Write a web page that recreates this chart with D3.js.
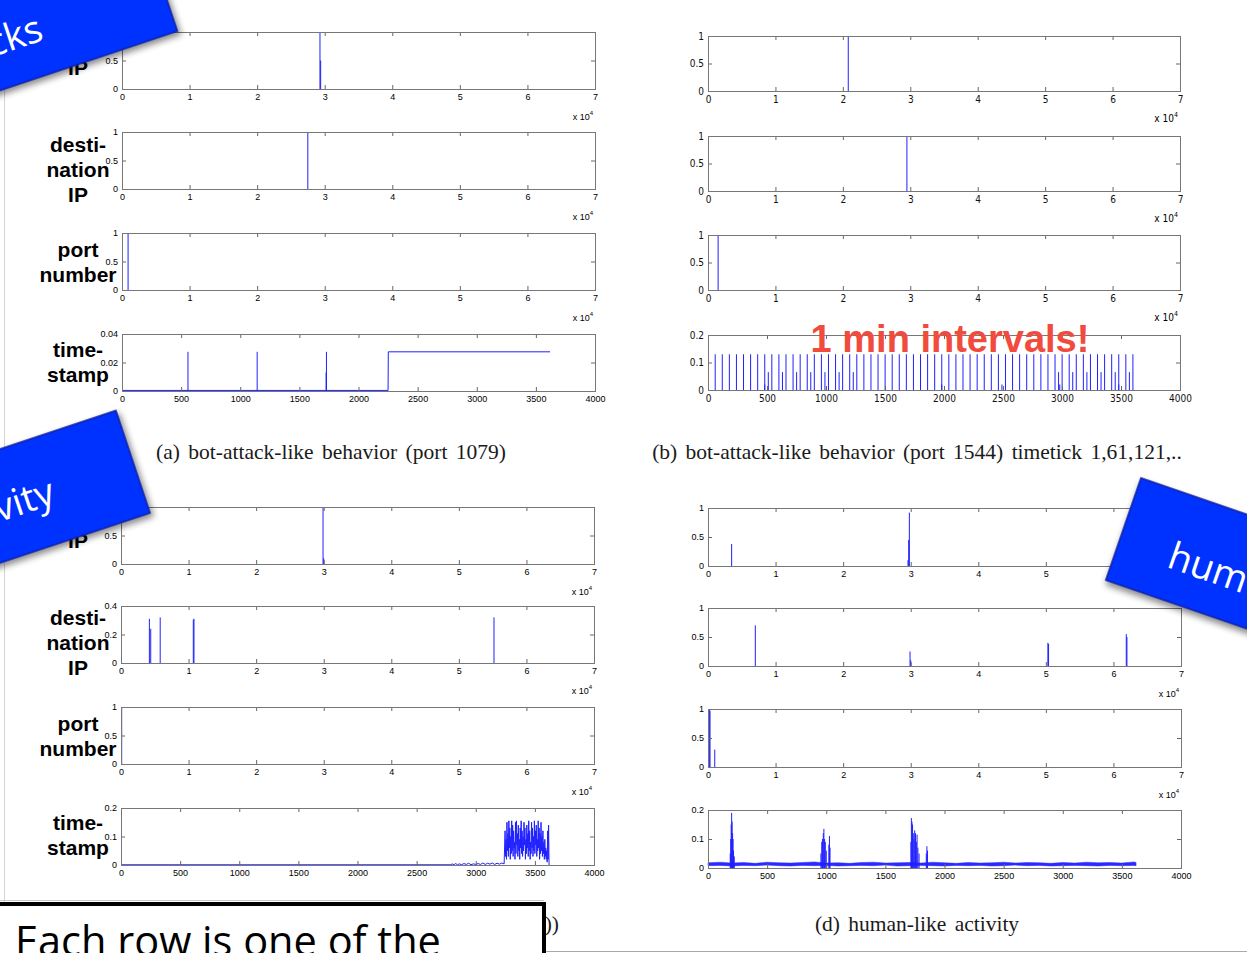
<!DOCTYPE html>
<meta charset="utf-8">
<style>
body { margin: 0; background: #fff; }
svg { display: block; }
.tick text { font: 9px "Liberation Sans", Arial, sans-serif; fill: #000; }
.narrow .tick text { font: 10px "DejaVu Sans Condensed", sans-serif; fill: #111; }
.tick line { stroke: #666; }
.frame { fill: none; stroke: #777; }
.e4 { font: 9px "Liberation Sans", Arial, sans-serif; text-anchor: end; }
.narrow .e4 { font: 10px "DejaVu Sans Condensed", sans-serif; }
.rowlab { font: bold 21px "Liberation Sans", Arial, sans-serif; text-anchor: middle; fill: #000; }
.caption { font: 21.5px "Liberation Serif", serif; word-spacing: 3px; text-anchor: middle; fill: #1a1a1a; }
.spike { stroke: #2020ff; stroke-width: 1; }
.trace { fill: none; stroke: #2020ff; stroke-width: 1; }
.band { fill: #2a2aff; stroke: #2a2aff; stroke-width: 0.5; }
.banner rect { fill: #0433ff; stroke: #0a1f9e; stroke-width: 1.5; }
.banner text { font: 38px "Open Sans", sans-serif; fill: #fff; }
.note { font: bold 38px "Liberation Sans", Arial, sans-serif; fill: #f04b3c; text-anchor: middle; }
.boxtext { font: 41.5px "Open Sans", sans-serif; fill: #000; }
</style>
<svg width="1247" height="953"></svg>
<script src="https://d3js.org/d3.v7.min.js"></script>
<script>

// tick values
var xTicksE4 = [0, 1, 2, 3, 4, 5, 6, 7];
var xTicksTime = [0, 500, 1000, 1500, 2000, 2500, 3000, 3500, 4000];
var yTicksUnit = [0, 0.5, 1];
var yTicksA = [0, 0.02, 0.04];
var yTicksTenth = [0, 0.1, 0.2];
var yTicksDst = [0, 0.2, 0.4];

var rowNames = [["source", "IP"], ["desti-", "nation", "IP"], ["port", "number"], ["time-", "stamp"]];

// (a) bot-attack-like behavior (port 1079) -- IP / port x in units of 1e4
var aSrcIP = [[2.93, 1.0], [2.94, 0.5]];
var aDstIP = [[2.75, 1.0]];
var aPort = [[0.09, 1.0]];
var aTimeSpikes = [[558, 0.0275], [1143, 0.0275], [1726, 0.013], [1729, 0.0275]];
var aTimeSteps = [[0, 0.0004], [2250, 0.0004], [2252, 0.0275], [3620, 0.0275]];

// (b) bot-attack-like behavior (port 1544)
var bSrcIP = [[2.08, 1.0]];
var bDstIP = [[2.95, 1.0]];
var bPort = [[0.15, 1.0]];
var bMainTicks = [61, 121, 181, 241, 301, 361, 421, 481, 541, 601, 661, 721, 781, 841, 901, 961,
  1021, 1081, 1141, 1201, 1261, 1321, 1381, 1441, 1501, 1561, 1621, 1681, 1741, 1801, 1861, 1921,
  1981, 2041, 2101, 2161, 2221, 2281, 2341, 2401, 2461, 2521, 2581, 2641, 2701, 2761, 2821, 2881,
  2941, 3001, 3061, 3121, 3181, 3241, 3301, 3361, 3421, 3481, 3541, 3601];
var bMainHeight = 0.13;
var bMidTicks = [511, 631, 751, 871, 991, 1111, 1231, 2971, 3091, 3211, 3331, 3451, 3571];
var bMidHeight = 0.065;
var bLowTicks = [481, 1981, 2491, 2981, 3481];
var bLowHeight = 0.02;

// (c)
var cSrcIP = [[2.99, 1.0], [3.0, 0.1]];
var cDstIP = [[0.42, 0.31], [0.44, 0.24], [0.58, 0.32], [1.07, 0.305], [1.08, 0.31], [5.52, 0.32]];
var cPort = [[0.01, 1.0]];
var cTimePts = [[0, 0.0008], [2790, 0.0008], [2800, 0.004], [2815, 0.001], [2830, 0.005], [2845, 0.001],
  [2860, 0.004], [2880, 0.001], [2900, 0.005], [2920, 0.002], [2940, 0.006], [2960, 0.001], [2980, 0.004],
  [3000, 0.002], [3020, 0.005], [3040, 0.002], [3060, 0.007], [3080, 0.002], [3100, 0.006], [3120, 0.003],
  [3140, 0.007], [3160, 0.002], [3180, 0.006], [3200, 0.003], [3220, 0.007], [3240, 0.004],
  [3248, 0.12], [3252, 0.03], [3256, 0.09], [3260, 0.02], [3264, 0.15], [3268, 0.05], [3272, 0.11], [3276, 0.03],
  [3280, 0.155], [3284, 0.06], [3288, 0.13], [3292, 0.02], [3296, 0.1], [3300, 0.04], [3304, 0.155], [3308, 0.05],
  [3312, 0.14], [3316, 0.03], [3320, 0.12], [3324, 0.06], [3328, 0.08], [3332, 0.02], [3336, 0.15], [3340, 0.04],
  [3344, 0.155], [3348, 0.07], [3352, 0.11], [3356, 0.03], [3360, 0.14], [3364, 0.05], [3368, 0.09], [3372, 0.02],
  [3376, 0.13], [3380, 0.06], [3384, 0.155], [3388, 0.04], [3392, 0.12], [3396, 0.03], [3400, 0.1], [3404, 0.05],
  [3408, 0.15], [3412, 0.07], [3416, 0.13], [3420, 0.02], [3424, 0.09], [3428, 0.04], [3432, 0.14], [3436, 0.06],
  [3440, 0.11], [3444, 0.03], [3448, 0.155], [3452, 0.05], [3456, 0.12], [3460, 0.02], [3464, 0.08], [3468, 0.04],
  [3472, 0.15], [3476, 0.06], [3480, 0.13], [3484, 0.03], [3488, 0.1], [3492, 0.05], [3496, 0.155], [3500, 0.04],
  [3504, 0.12], [3508, 0.07], [3512, 0.14], [3516, 0.03], [3520, 0.09], [3524, 0.05], [3528, 0.155], [3532, 0.06],
  [3536, 0.13], [3540, 0.02], [3544, 0.11], [3548, 0.04], [3552, 0.15], [3556, 0.05], [3560, 0.1], [3564, 0.03],
  [3568, 0.12], [3572, 0.04], [3576, 0.08], [3580, 0.02], [3584, 0.09], [3588, 0.03], [3592, 0.06], [3596, 0.02],
  [3600, 0.05], [3604, 0.01], [3608, 0.12], [3612, 0.02], [3616, 0.14], [3620, 0.0]];

// (d) human-like activity
var dSrcIP = [[0.35, 0.38], [2.96, 0.1], [2.97, 0.45], [2.98, 0.92]];
var dDstIP = [[0.70, 0.70], [2.99, 0.25], [3.0, 0.10], [5.03, 0.40], [5.04, 0.38], [6.19, 0.55], [6.2, 0.5]];
var dPort = [[0.02, 1.0], [0.03, 0.97], [0.1, 0.3]];
var dBandT = [0, 100, 200, 300, 400, 500, 600, 700, 800, 900, 1000, 1100, 1200, 1300, 1400, 1500, 1600, 1700,
  1800, 1900, 2000, 2100, 2200, 2300, 2400, 2500, 2600, 2700, 2800, 2900, 3000, 3100, 3200, 3300, 3400, 3500, 3600, 3620];
var dBandLo = [0.008, 0.009, 0.007, 0.009, 0.008, 0.01, 0.008, 0.007, 0.009, 0.008, 0.009, 0.007, 0.008, 0.009,
  0.008, 0.01, 0.007, 0.008, 0.009, 0.008, 0.007, 0.009, 0.008, 0.009, 0.007, 0.008, 0.01, 0.008, 0.009, 0.007,
  0.008, 0.009, 0.008, 0.007, 0.009, 0.008, 0.009, 0.008];
var dBandHi = [0.018, 0.02, 0.017, 0.019, 0.016, 0.02, 0.018, 0.017, 0.019, 0.021, 0.017, 0.018, 0.016, 0.019,
  0.02, 0.017, 0.018, 0.019, 0.017, 0.02, 0.018, 0.016, 0.019, 0.017, 0.018, 0.02, 0.017, 0.019, 0.018, 0.016,
  0.019, 0.017, 0.02, 0.018, 0.019, 0.017, 0.021, 0.019];
var dTimeSpikes = [[188, 0.05], [192, 0.1], [196, 0.15], [200, 0.19], [204, 0.16], [208, 0.12], [212, 0.1],
  [216, 0.06], [222, 0.04], [955, 0.05], [962, 0.09], [968, 0.1], [975, 0.12], [980, 0.135], [986, 0.1],
  [992, 0.09], [1000, 0.06], [1022, 0.08], [1027, 0.11], [1032, 0.07], [1716, 0.09], [1720, 0.172],
  [1725, 0.16], [1730, 0.15], [1736, 0.12], [1742, 0.1], [1748, 0.13], [1755, 0.12], [1762, 0.09],
  [1768, 0.115], [1775, 0.07], [1785, 0.05], [1846, 0.05], [1851, 0.075], [1856, 0.06]];

var captionA = "(a) bot-attack-like behavior (port 1079)";
var captionB = "(b) bot-attack-like behavior (port 1544) timetick 1,61,121,..";
var captionCTail = "))";
var captionD = "(d) human-like activity";
var noteText = "1 min intervals!";
var boxText = "Each row is one of the";

var svg = d3.select("svg");

var defs = svg.append("defs");
defs.append("filter").attr("id", "shadow")
    .attr("x", "-30%").attr("y", "-30%").attr("width", "160%").attr("height", "180%")
  .append("feDropShadow")
    .attr("dx", 2).attr("dy", 4).attr("stdDeviation", 3)
    .attr("flood-color", "#000").attr("flood-opacity", 0.45);

// slide edges
svg.append("line").attr("x1", 4.5).attr("x2", 4.5).attr("y1", 0).attr("y2", 953).attr("stroke", "#d4d4d4");
svg.append("line").attr("x1", 0).attr("x2", 1247).attr("y1", 951.5).attr("y2", 951.5).attr("stroke", "#aaa");

function spikesOf(ticks, h) {
  return ticks.map(function(t) { return [t, h]; });
}

var e4Plot = function(spikes, yd, yt) {
  return {xd: [0, 7], xt: xTicksE4, yd: yd || [0, 1], yt: yt || yTicksUnit, spikes: spikes, e4: true};
};

var panels = [
  {left: 122, right: 595, tops: [32, 132, 233, 334], h: 57, labelX: 78, labelOff: [10, 12, 16, 15],
    plots: [e4Plot(aSrcIP), e4Plot(aDstIP), e4Plot(aPort),
      {xd: [0, 4000], xt: xTicksTime, yd: [0, 0.04], yt: yTicksA, spikes: aTimeSpikes, line: aTimeSteps}]},
  {left: 708, right: 1180, tops: [36, 136, 235, 335], h: 55, narrow: true,
    plots: [e4Plot(bSrcIP), e4Plot(bDstIP), e4Plot(bPort),
      {xd: [0, 4000], xt: xTicksTime, yd: [0, 0.2], yt: yTicksTenth,
        spikes: spikesOf(bMainTicks, bMainHeight).concat(spikesOf(bMidTicks, bMidHeight), spikesOf(bLowTicks, bLowHeight))}]},
  {left: 121, right: 594, tops: [507, 606, 707, 808], h: 57, labelX: 78, labelOff: [8, 11, 16, 14],
    plots: [e4Plot(cSrcIP), e4Plot(cDstIP, [0, 0.4], yTicksDst), e4Plot(cPort),
      {xd: [0, 4000], xt: xTicksTime, yd: [0, 0.2], yt: yTicksTenth, line: cTimePts}]},
  {left: 708, right: 1181, tops: [508, 608, 709, 810], h: 58,
    plots: [e4Plot(dSrcIP), e4Plot(dDstIP), e4Plot(dPort),
      {xd: [0, 4000], xt: xTicksTime, yd: [0, 0.2], yt: yTicksTenth, spikes: dTimeSpikes,
        band: d3.zip(dBandT, dBandLo, dBandHi)}]}
];

var fmt = d3.format("~g");

panels.forEach(function(p) {
  p.plots.forEach(function(s, i) {
    var top = p.tops[i], bottom = top + p.h;
    var x = d3.scaleLinear().domain(s.xd).range([p.left, p.right]);
    var y = d3.scaleLinear().domain(s.yd).range([bottom, top]);
    var g = svg.append("g").attr("class", p.narrow ? "plot narrow" : "plot");

    if (s.band) {
      g.append("path").datum(s.band).attr("class", "band")
          .attr("d", d3.area().x(function(d) { return x(d[0]); })
            .y0(function(d) { return y(d[1]); }).y1(function(d) { return y(d[2]); }));
    }
    if (s.line) {
      g.append("path").datum(s.line).attr("class", "trace")
          .attr("d", d3.line().x(function(d) { return x(d[0]); }).y(function(d) { return y(d[1]); }));
    }
    if (s.spikes) {
      g.selectAll("line.spike").data(s.spikes).join("line")
          .attr("class", "spike")
          .attr("x1", function(d) { return x(d[0]); })
          .attr("x2", function(d) { return x(d[0]); })
          .attr("y1", y(0))
          .attr("y2", function(d) { return y(d[1]); });
    }

    g.append("g").attr("transform", "translate(0," + bottom + ")")
        .call(d3.axisBottom(x).tickValues(s.xt).tickFormat(fmt).tickSize(-4).tickPadding(5));
    g.append("g").attr("transform", "translate(0," + top + ")")
        .call(d3.axisTop(x).tickValues(s.xt).tickFormat("").tickSize(-4));
    g.append("g").attr("transform", "translate(" + p.left + ",0)")
        .call(d3.axisLeft(y).tickValues(s.yt).tickFormat(fmt).tickSize(-4).tickPadding(4));
    g.append("g").attr("transform", "translate(" + p.right + ",0)")
        .call(d3.axisRight(y).tickValues(s.yt).tickFormat("").tickSize(-4));
    g.selectAll(".domain").remove();

    g.append("rect").attr("class", "frame")
        .attr("x", p.left + 0.5).attr("y", top + 0.5)
        .attr("width", p.right - p.left).attr("height", p.h);

    if (s.e4) {
      var t = g.append("text").attr("class", "e4")
          .attr("x", p.right - 2).attr("y", bottom + 31);
      t.append("tspan").text("x 10");
      t.append("tspan").attr("dy", -5).attr("font-size", p.narrow ? 7 : 6).text("4");
    }

    if (p.labelX) {
      var lines = rowNames[i];
      g.append("text").attr("class", "rowlab")
        .selectAll("tspan").data(lines).join("tspan")
          .attr("x", p.labelX)
          .attr("y", function(d, k) { return top + p.labelOff[i] + k * 25; })
          .attr("dy", "0.36em")
          .text(function(d) { return d; });
    }
  });
});

// captions
svg.append("text").attr("class", "caption").attr("x", 331).attr("y", 459).text(captionA);
svg.append("text").attr("class", "caption").attr("x", 917).attr("y", 459).text(captionB);
svg.append("text").attr("class", "caption").attr("x", 559).attr("y", 931).style("text-anchor", "end").text(captionCTail);
svg.append("text").attr("class", "caption").attr("x", 917).attr("y", 931).text(captionD);

// annotation
svg.append("text").attr("class", "note").attr("x", 950).attr("y", 352).text(noteText);

// banners
var banners = [
  {x: 178, y: 33, rot: -18.5, rx: -420, ry: -110, text: "cks", tx: -128, ty: -36, anchor: "end"},
  {x: 150, y: 513, rot: -18.4, rx: -420, ry: -108, text: "vity", tx: -85, ty: -39, anchor: "end"},
  {x: 1141, y: 478, rot: 19, rx: 0, ry: 0, text: "hum", tx: 52, ty: 76, anchor: "start"}
];

banners.forEach(function(b) {
  var g = svg.append("g").attr("class", "banner")
      .attr("transform", "translate(" + b.x + "," + b.y + ") rotate(" + b.rot + ")");
  g.append("rect").attr("x", b.rx).attr("y", b.ry).attr("width", 420).attr("height", 108)
      .attr("filter", "url(#shadow)");
  g.append("text").attr("x", b.tx).attr("y", b.ty).attr("text-anchor", b.anchor).text(b.text);
});

// text box at bottom left
svg.append("line").attr("x1", 0).attr("x2", 544).attr("y1", 900.5).attr("y2", 900.5).attr("stroke", "#c8c8c8");
svg.append("rect").attr("x", -10).attr("y", 904).attr("width", 554).attr("height", 80)
    .attr("fill", "#fff").attr("stroke", "#000").attr("stroke-width", 4);
svg.append("text").attr("class", "boxtext").attr("x", 15).attr("y", 956).text(boxText);

</script>
